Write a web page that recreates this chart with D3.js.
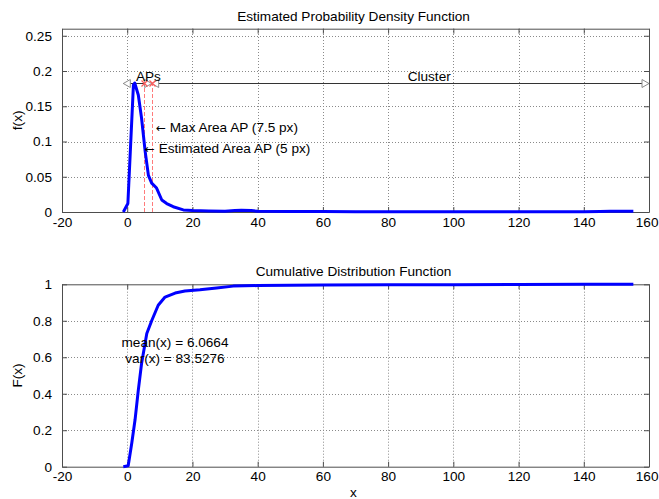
<!DOCTYPE html>
<html><head><meta charset="utf-8">
<script src="https://cdn.jsdelivr.net/npm/d3@7"></script>
<style>
html,body{margin:0;padding:0;background:#fff;}
svg{display:block;font-family:"Liberation Sans",Arial,sans-serif;}
</style></head>
<body><svg id="chart" width="659" height="499"></svg>
<script>
// ---- data ----
const xTicks = [-20,0,20,40,60,80,100,120,140,160];
const pdfTicks = [0,0.05,0.1,0.15,0.2,0.25];
const pdfTickLabels = ["0","0.05","0.1","0.15","0.2","0.25"];
const cdfTicks = [0,0.2,0.4,0.6,0.8,1];
const cdfTickLabels = ["0","0.2","0.4","0.6","0.8","1"];

const pdfX = [-1.2,0.2,1.9,2.3,3.4,4.4,5.5,6.5,7.5,9.0,10.6,12.1,14.1,17.2,20,25,30,33,35,38,40,50,60,70,80,90,100,110,120,130,140,145,148,152,155.2];
const pdfY = [0,0.012,0.180,0.183,0.166,0.133,0.086,0.052,0.041,0.034,0.017,0.012,0.0075,0.003,0.002,0.0015,0.001,0.002,0.0025,0.002,0.001,0.0008,0.0006,0.0005,0.0004,0.0004,0.0004,0.0004,0.0004,0.0004,0.0004,0.0008,0.0012,0.0012,0.0012];

const cdfX = [-1.2,0.3,1.4,2.4,3.4,4.4,6.0,7.5,9.5,11.6,14.7,17.7,22.3,27.4,32.5,40,60,80,100,120,140,155.2];
const cdfY = [0,0.005,0.13,0.257,0.42,0.566,0.73,0.80,0.885,0.93,0.952,0.963,0.97,0.98,0.99,0.993,0.996,0.997,0.998,0.999,1.0,1.0];

const peakY = 0.183;
const apEdges = [-1.2, 7.5, 160];   // arrow ends: APs [-1.2,7.5], Cluster [7.5,160]
const apLines = [5, 7.5];          // estimated and max area AP
const meanX = 6.0664, varX = 83.5276;

// ---- layout ----
const svg = d3.select("#chart");
const L = 62, R = 649;
const x = d3.scaleLinear().domain([-20,160]).range([L,R]);
const yTop = d3.scaleLinear().domain([0,0.26]).range([212,28.7]);
const yBot = d3.scaleLinear().domain([0,1]).range([466.7,284.3]);
const axisColor = "#4d4d4d", fs = 13.6;

function panel(y, yTicks, yLabels, title, ylab){
  const g = svg.append("g");
  const [y0,y1] = y.range();
  g.selectAll(".gx").data(xTicks.slice(1,-1)).join("line")
    .attr("x1",d=>Math.round(x(d))+0.5).attr("x2",d=>Math.round(x(d))+0.5).attr("y1",y0).attr("y2",y1)
    .attr("stroke","#8a8a8a").attr("stroke-dasharray","1,2");
  g.selectAll(".gy").data(yTicks.filter(t=>y(t)<y0-1 && y(t)>y1+1)).join("line")
    .attr("x1",L).attr("x2",R).attr("y1",d=>Math.round(y(d))+0.5).attr("y2",d=>Math.round(y(d))+0.5)
    .attr("stroke","#8a8a8a").attr("stroke-dasharray","1,2");
  const ab = g.append("g").attr("transform",`translate(0,${y0})`).call(d3.axisBottom(x).tickValues(xTicks).tickSizeInner(-5).tickSizeOuter(0).tickPadding(9).tickFormat(d=>String(d)));
  const at = g.append("g").attr("transform",`translate(0,${y1})`).call(d3.axisTop(x).tickValues(xTicks).tickSizeInner(-5).tickSizeOuter(0).tickFormat(""));
  const al = g.append("g").attr("transform",`translate(${L},0)`).call(d3.axisLeft(y).tickValues(yTicks).tickSizeInner(-5).tickSizeOuter(0).tickPadding(10).tickFormat((d,i)=>yLabels[i]));
  const ar = g.append("g").attr("transform",`translate(${R},0)`).call(d3.axisRight(y).tickValues(yTicks).tickSizeInner(-5).tickSizeOuter(0).tickFormat(""));
  [ab,at,al,ar].forEach(a=>{
    a.selectAll("path").attr("stroke",axisColor);
    a.selectAll("line").attr("stroke",axisColor);
    a.selectAll("text").attr("fill","#000").style("font-size",fs+"px").style("font-family","Liberation Sans, Arial, sans-serif");
  });
  ab.selectAll("text").attr("dy","0.71em").attr("y",5);
  // keep the last label inside the window
  ab.selectAll(".tick").filter(d=>d===160).select("text").attr("text-anchor","end").attr("x",9);
  svg.append("text").attr("x",(L+R)/2-2).attr("y",y1-8).attr("text-anchor","middle").style("font-size",fs+"px").text(title);
  svg.append("text").attr("transform",`translate(22,${(y0+y1)/2}) rotate(-90)`).attr("text-anchor","middle").style("font-size",fs+"px").text(ylab);
  return g;
}

panel(yTop, pdfTicks, pdfTickLabels, "Estimated Probability Density Function", "f(x)");
panel(yBot, cdfTicks, cdfTickLabels, "Cumulative Distribution Function", "F(x)");
svg.append("text").attr("x",(L+R)/2-2).attr("y",497).attr("text-anchor","middle").style("font-size",fs+"px").text("x");

// ---- top panel marks ----
svg.selectAll(".apl").data(apLines).join("line")
  .attr("x1",d=>Math.round(x(d))+0.5).attr("x2",d=>Math.round(x(d))+0.5).attr("y1",yTop(0)).attr("y2",yTop(peakY))
  .attr("stroke","#ff7b7b").attr("stroke-width",1).attr("stroke-dasharray","4,2");
const py = Math.round(yTop(peakY))+0.5;
svg.append("line").attr("x1",x(apEdges[0])).attr("x2",x(apEdges[2])).attr("y1",py).attr("y2",py)
  .attr("stroke","#333").attr("stroke-width",1);
function tri(px,py,dir){
  const b = px - dir*7;
  return `M${px},${py} L${b},${py-4} L${b},${py+4} Z`;
}
[[apEdges[0],-1],[apEdges[1],1],[apEdges[1],-1],[apEdges[2],1]].forEach(([v,d])=>{
  svg.append("path").attr("d",tri(x(v),py,d)).attr("fill","#fff").attr("stroke","#8c8c8c").attr("stroke-width",1);
});
svg.selectAll(".xm").data(apLines).join("path")
  .attr("d",d=>{const cx=Math.round(x(d))+0.5,cy=py;return `M${cx-3},${cy-3}L${cx+3},${cy+3}M${cx-3},${cy+3}L${cx+3},${cy-3}`;})
  .attr("stroke","#ff5a5a").attr("stroke-width",1.2);
svg.append("path").datum(pdfX.map((v,i)=>[v,pdfY[i]]))
  .attr("d",d3.line().x(d=>x(d[0])).y(d=>yTop(d[1])))
  .attr("fill","none").attr("stroke","#0000ff").attr("stroke-width",3).attr("stroke-linejoin","round");
svg.append("text").attr("x",x(6.5)).attr("y",py-3).attr("text-anchor","middle").style("font-size",fs+"px").text("APs");
svg.append("text").attr("x",x(92.6)).attr("y",py-3).attr("text-anchor","middle").style("font-size",fs+"px").text("Cluster");
function arrowText(xv,yv,label){
  const t = svg.append("text").attr("x",x(xv)).attr("y",yTop(yv)).attr("dy","0.35em").style("font-size",fs+"px");
  t.append("tspan").style("font-family","DejaVu Sans").style("font-size","12px").text("\u2190");
  t.append("tspan").text(" " + label);
}
arrowText(8.8,0.12,"Max Area AP (7.5 px)");
arrowText(5.4,0.09,"Estimated Area AP (5 px)");

// ---- bottom panel ----
svg.append("path").datum(cdfX.map((v,i)=>[v,cdfY[i]]))
  .attr("d",d3.line().x(d=>x(d[0])).y(d=>yBot(d[1])))
  .attr("fill","none").attr("stroke","#0000ff").attr("stroke-width",3).attr("stroke-linejoin","round");
svg.append("text").attr("x",175).attr("y",yBot(0.68)).attr("dy","0.35em").attr("text-anchor","middle").style("font-size",fs+"px").text("mean(x) = " + meanX.toFixed(4));
svg.append("text").attr("x",175).attr("y",yBot(0.595)).attr("dy","0.35em").attr("text-anchor","middle").style("font-size",fs+"px").text("var(x) = " + varX.toFixed(4));
</script></body></html>
